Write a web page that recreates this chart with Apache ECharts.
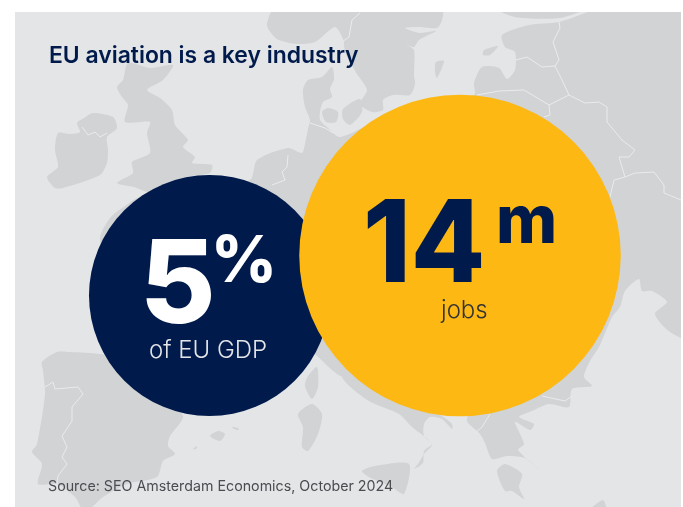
<!DOCTYPE html>
<html>
<head>
<meta charset="utf-8">
<style>html,body{margin:0;padding:0;background:#fff}#chart{width:683px;height:507px}</style>
<script src="https://cdn.jsdelivr.net/npm/echarts@6/dist/echarts.min.js"></script>
</head>
<body>
<div id="chart"></div>
<script>
// Headline figures
const titleText = 'EU aviation is a key industry';
const sourceText = 'Source: SEO Amsterdam Economics, October 2024';
const gdpFigure = '5';
const gdpUnit = '%';
const gdpCaption = 'of EU GDP';
const jobsFigure = '14';
const jobsUnit = 'm';
const jobsCaption = 'jobs';

// Backdrop outline of Europe, in plot units; outlines run past the panel edge and are clipped to it
const land = [
  // Ireland
  [[77,123],[84,118],[93,113],[113,117],[117,128],[107,137],[108,150],[107,163],[100,175],[63,188],[55,188],[47,177],[58,167],[55,150],[58,133],[70,134],[80,132]],
  // Great Britain
  [[128,63],[150,68],[173,65],[163,80],[147,90],[160,98],[172,110],[175,125],[188,140],[183,147],[195,157],[192,163],[212,165],[210,173],[187,177],[150,192],[134,187],[117,183],[133,173],[132,162],[150,153],[147,133],[150,122],[125,122],[128,105],[122,97],[117,87],[123,80]],
  // Norway and Sweden
  [[277,5],[360,-10],[442,5],[442,20],[437,28],[420,27],[405,28],[420,33],[436,31],[419,40],[414,47],[407,45],[414,50],[414,75],[415,84],[410,95],[393,95],[383,100],[383,110],[372,112],[360,104],[367,90],[357,74],[350,62],[345,52],[343,39],[335,27],[315,42],[297,44],[277,39],[267,25]],
  // Finland, southern edge
  [[490,5],[540,-5],[585,8],[560,18],[515,17]],
  // Continental Europe from France through the Low Countries, Germany and Poland to the Black Sea
  [[110,218],[125,206],[140,197],[180,195],[250,180],[257,160],[288,148],[302,153],[305,144],[308,129],[310,120],[305,107],[303,90],[308,80],[322,77],[332,67],[334,79],[330,89],[332,97],[323,102],[320,112],[320,120],[327,127],[340,137],[380,120],[474,95],[474,83],[482,67],[499,68],[507,79],[515,70],[515,52],[505,47],[502,35],[529,25],[559,22],[585,13],[630,-5],[700,-10],[710,150],[695,340],[670,332],[655,314],[667,302],[652,291],[642,291],[639,279],[625,291],[620,307],[612,317],[599,347],[590,361],[584,377],[592,386],[572,389],[569,407],[549,404],[532,411],[519,417],[534,424],[530,430],[515,422],[524,444],[518,450],[540,470],[525,458],[507,456],[492,459],[485,443],[480,434],[467,421],[470,405],[420,395],[400,340],[345,377],[300,345],[260,395],[200,400],[130,330],[100,240]],
  // Italian boot
  [[342,377],[369,401],[399,414],[412,427],[432,444],[424,454],[418,464],[414,469],[423,463],[424,451],[432,444],[424,436],[424,424],[430,417],[442,419],[452,429],[452,424],[442,416],[430,408],[400,380],[380,350],[342,340]],
  // Iberian Peninsula
  [[42,362],[57,352],[70,352],[100,354],[130,360],[160,390],[183,416],[170,436],[168,446],[175,454],[163,461],[157,477],[127,484],[103,497],[85,512],[75,497],[57,484],[38,484],[42,464],[32,452],[37,444],[45,394],[43,371]],
  // Peloponnese
  [[497,471],[505,464],[522,474],[519,487],[524,499],[512,491],[505,491]],
  // Sicily
  [[362,471],[375,466],[409,464],[404,494],[392,487],[369,477]],
  // Sardinia
  [[298,414],[312,404],[322,414],[318,434],[308,451],[302,447],[303,427]],
  // Corsica
  [[317,367],[318,387],[312,399],[305,386],[308,376]],
  // Mallorca, Menorca and Ibiza
  [[210,436],[218,431],[225,434],[220,441]],
  [[232,427],[238,428],[239,430],[234,429]],
  [[193,449],[197,446],[196,449]],
  // Danish islands
  [[343,109],[360,99],[362,112],[350,125],[343,119]],
  [[322,112],[328,108],[338,112],[336,122],[326,122]],
  // Gotland and Saaremaa
  [[436,62],[444,61],[437,78],[435,72]],
  [[484,50],[498,46],[490,55],[483,55]],
  // Crete
  [[590,510],[603,500],[606,510]]
];

// National borders drawn over the land
const borders = [
  [[82,127],[88,135],[95,132],[100,137],[107,133]],
  [[45,387],[53,382],[55,389],[78,387],[83,394],[72,407],[72,421],[68,427],[62,436],[67,447],[62,457],[67,464],[58,476],[57,484]],
  [[288,155],[287,167],[282,172],[285,180],[272,185]],
  [[310,123],[325,128],[333,133]],
  [[360,13],[352,20],[349,37],[342,42]],
  [[516,60],[527,57],[542,67],[555,66],[562,80],[569,95],[549,105],[550,115],[544,117]],
  [[477,95],[499,91],[524,90],[549,105]],
  [[555,66],[559,60],[553,42],[560,28],[559,22]],
  [[569,95],[585,103],[599,102],[607,107],[607,122],[622,140],[635,150],[629,157],[619,157],[625,177],[614,180],[610,197]],
  [[625,177],[635,173],[654,172],[664,185],[664,193],[681,200]],
  [[490,414],[482,427],[474,434]],
  [[542,396],[565,401],[572,396]]
];

// Circle centres in plot units with their diameters
const gdpCircle = [209.5, 295.5, 241];
const jobsCircle = [460, 255.5, 321.5];

const panel = { x: 15, y: 12, width: 666, height: 495 };

const polygonSeries = {
  type: 'custom',
  coordinateSystem: 'cartesian2d',
  silent: true,
  z: 2,
  clip: false,
  data: land.map((_, i) => [i]),
  renderItem: (params, api) => ({
    type: 'polygon',
    clipPath: { type: 'rect', shape: panel },
    shape: { points: land[api.value(0)].map(p => api.coord(p)), smooth: 0.25 },
    style: { fill: '#d1d3d5' }
  })
};

const borderSeries = {
  type: 'custom',
  coordinateSystem: 'cartesian2d',
  silent: true,
  z: 3,
  data: borders.map((_, i) => [i]),
  renderItem: (params, api) => ({
    type: 'polyline',
    shape: { points: borders[api.value(0)].map(p => api.coord(p)) },
    style: { fill: 'none', stroke: '#e9ebec', lineWidth: 1 }
  })
};

const circleSeries = (circle, color, z) => ({
  type: 'scatter',
  silent: true,
  z,
  symbol: 'circle',
  symbolSize: circle[2],
  itemStyle: { color, opacity: 1 },
  data: [[circle[0], circle[1]]]
});

const text = (x, y, style, extra) => Object.assign({
  type: 'text', x, y, z: 100, silent: true, style
}, extra || {});

const navy = '#001a4b';
const chart = echarts.init(document.getElementById('chart'), null, { renderer: 'canvas' });
chart.setOption({
  animation: false,
  backgroundColor: '#ffffff',
  grid: { left: 0, right: 0, top: 0, bottom: 0 },
  xAxis: { type: 'value', min: 0, max: 683, show: false },
  yAxis: { type: 'value', min: 0, max: 507, inverse: true, show: false },
  series: [
    polygonSeries,
    borderSeries,
    circleSeries(gdpCircle, navy, 5),
    circleSeries(jobsCircle, '#fdb813', 6)
  ],
  graphic: [
    { type: 'rect', z: 0, silent: true, shape: panel, style: { fill: '#e3e5e7' } },
    text(49, 45, { text: titleText, fill: navy, font: '600 22.9px Inter' }),
    text(140, 230, { text: gdpFigure, fill: '#ffffff', font: '800 116px Inter' }),
    text(211, 231, { text: gdpUnit, fill: '#ffffff', font: '800 64px Inter' }),
    text(149, 339, { text: gdpCaption, fill: '#e3e5e7', font: '300 24px Inter' }),
    text(363, 191, { text: jobsFigure, fill: navy, font: '800 114px Inter' }, { scaleX: 0.95 }),
    text(496, 190, { text: jobsUnit, fill: navy, font: '800 66px Inter' }),
    text(441, 299, { text: jobsCaption, fill: '#333333', font: '300 24px Inter' }),
    text(48, 480, { text: sourceText, fill: '#4a4c50', font: '400 14.25px Inter' })
  ]
});
</script>
</body>
</html>
